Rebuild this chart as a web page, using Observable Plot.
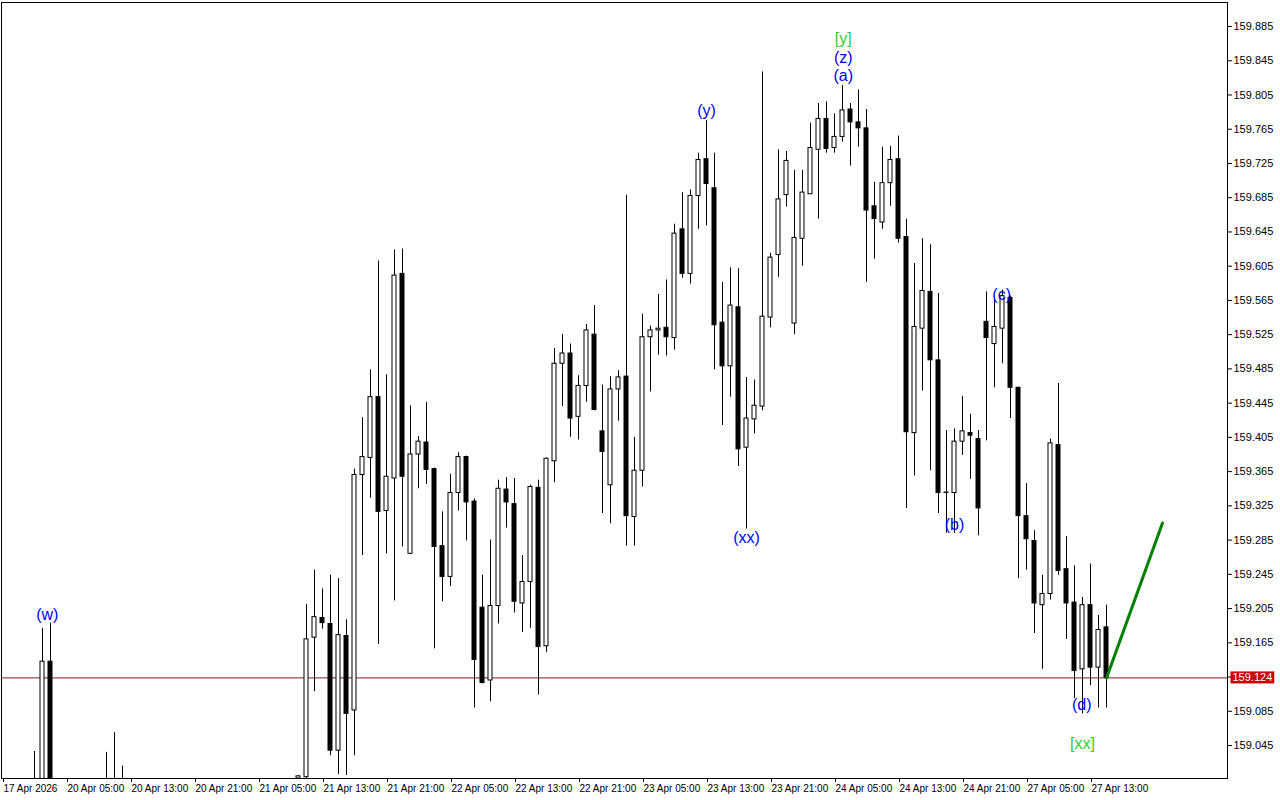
<!DOCTYPE html>
<html><head><meta charset="utf-8">
<script src="https://cdn.jsdelivr.net/npm/d3@7"></script>
<script src="https://cdn.jsdelivr.net/npm/@observablehq/plot@0.6"></script>
<style>body{margin:0;background:#fff} #chart svg{display:block}</style>
</head><body><div id="chart"></div>
<script>
// Bar number on the chart's own hourly bar sequence (first visible bar = 0)
const bars = [4,5,6,13,14,15,37,38,39,40,41,42,43,44,45,46,47,48,49,50,51,52,53,54,55,56,57,58,59,60,61,62,63,64,65,66,67,68,69,70,71,72,73,74,75,76,77,78,79,80,81,82,83,84,85,86,87,88,89,90,91,92,93,94,95,96,97,98,99,100,101,102,103,104,105,106,107,108,109,110,111,112,113,114,115,116,117,118,119,120,121,122,123,124,125,126,127,128,129,130,131,132,133,134,135,136,137,138];
const opens = [158.990,158.985,159.143,158.985,158.975,158.990,159.0065,159.008,159.171,159.194,159.187,159.039,159.173,159.086,159.361,159.381,159.452,159.319,159.357,159.596,159.269,159.385,159.399,159.368,159.278,159.242,159.340,159.382,159.330,159.206,159.121,159.208,159.344,159.327,159.211,159.236,159.346,159.161,159.377,159.491,159.503,159.429,159.465,159.525,159.412,159.349,159.461,159.476,159.312,159.366,159.522,159.530,159.533,159.521,159.648,159.596,159.687,159.730,159.696,159.539,159.488,159.557,159.393,159.426,159.441,159.545,159.618,159.688,159.538,159.637,159.689,159.741,159.777,159.743,159.756,159.788,159.773,159.766,159.675,159.656,159.702,159.730,159.639,159.410,159.532,159.575,159.495,159.3405,159.340,159.400,159.410,159.403,159.540,159.514,159.532,159.568,159.463,159.313,159.284,159.209,159.222,159.396,159.251,159.212,159.134,159.209,159.136,159.183];
const highs = [159.038,159.182,159.188,159.037,159.060,159.021,159.010,159.210,159.250,159.228,159.244,159.240,159.192,159.368,159.428,159.484,159.611,159.478,159.624,159.625,159.442,159.406,159.446,159.369,159.318,159.362,159.387,159.383,159.333,159.244,159.285,159.355,159.358,159.357,159.267,159.349,159.355,159.381,159.509,159.525,159.514,159.477,159.537,159.559,159.466,159.476,159.483,159.688,159.405,159.549,159.535,159.572,159.589,159.654,159.691,159.694,159.737,159.775,159.737,159.586,159.603,159.602,159.475,159.472,159.832,159.620,159.741,159.739,159.717,159.717,159.772,159.795,159.797,159.783,159.816,159.795,159.811,159.788,159.703,159.744,159.745,159.757,159.660,159.608,159.637,159.630,159.573,159.413,159.415,159.453,159.432,159.413,159.575,159.566,159.577,159.570,159.463,159.351,159.296,159.244,159.403,159.468,159.289,159.255,159.218,159.257,159.197,159.209];
const lows = [158.970,158.975,158.965,158.960,158.965,158.970,158.990,159.005,159.108,159.181,159.033,159.011,159.010,159.033,159.267,159.334,159.163,159.269,159.214,159.277,159.268,159.345,159.350,159.158,159.213,159.231,159.319,159.284,159.089,159.117,159.096,159.187,159.299,159.200,159.177,159.182,159.104,159.154,159.352,159.441,159.405,159.402,159.446,159.436,159.316,159.304,159.424,159.278,159.278,159.347,159.458,159.501,159.500,159.507,159.591,159.584,159.648,159.652,159.484,159.419,159.452,159.371,159.298,159.409,159.436,159.533,159.592,159.674,159.525,159.605,159.689,159.660,159.737,159.737,159.750,159.722,159.744,159.586,159.613,159.648,159.675,159.632,159.322,159.360,159.459,159.366,159.316,159.293,159.293,159.384,159.356,159.290,159.401,159.463,159.491,159.427,159.240,159.250,159.176,159.134,159.215,159.244,159.169,159.100,159.082,159.115,159.089,159.089];
const closes = [158.985,159.143,158.980,158.975,158.990,158.980,159.009,159.169,159.195,159.188,159.039,159.174,159.082,159.361,159.382,159.452,159.318,159.359,159.594,159.359,159.385,159.400,159.367,159.277,159.242,159.340,159.382,159.329,159.145,159.118,159.208,159.345,159.329,159.213,159.236,159.347,159.160,159.380,159.491,159.503,159.427,159.465,159.530,159.437,159.388,159.461,159.475,159.313,159.366,159.522,159.530,159.532,159.522,159.643,159.596,159.687,159.729,159.701,159.536,159.488,159.559,159.391,159.427,159.442,159.546,159.615,159.683,159.728,159.638,159.691,159.743,159.777,159.742,159.756,159.787,159.773,159.766,159.670,159.660,159.702,159.729,159.637,159.411,159.534,159.576,159.495,159.340,159.340,159.400,159.412,159.407,159.322,159.521,159.534,159.570,159.463,159.313,159.286,159.211,159.222,159.398,159.249,159.211,159.132,159.209,159.136,159.180,159.124];

const currentPrice = 159.124;

// Projection line (green)
const projBars = [138, 145];
const projPrices = [159.124, 159.305];

// Wave labels
const waveText = ["(w)","(y)","(xx)","[y]","(z)","(a)","(b)","(c)","(d)","[xx]"];
const waveBars = [5.6, 88, 93, 105.1, 105.1, 105.1, 119, 124.9, 134.9, 135];
const wavePrices = [159.198, 159.786, 159.288, 159.870, 159.848, 159.827, 159.303, 159.571, 159.092, 159.047];
const waveColors = ["#0000ff","#0000ff","#0000ff","#33cc33","#0000ff","#0000ff","#0000ff","#0000ff","#0000ff","#33cc33"];

// Axis ticks
const tickBars = [0,8,16,24,32,40,48,56,64,72,80,88,96,104,112,120,128,136];
const tickLabels = ["17 Apr 2026","20 Apr 05:00","20 Apr 13:00","20 Apr 21:00","21 Apr 05:00","21 Apr 13:00","21 Apr 21:00","22 Apr 05:00","22 Apr 13:00","22 Apr 21:00","23 Apr 05:00","23 Apr 13:00","23 Apr 21:00","24 Apr 05:00","24 Apr 13:00","24 Apr 21:00","27 Apr 05:00","27 Apr 13:00"];
const priceTicks = [159.045,159.085,159.125,159.165,159.205,159.245,159.285,159.325,159.365,159.405,159.445,159.485,159.525,159.565,159.605,159.645,159.685,159.725,159.765,159.805,159.845,159.885];

const candles = bars.map((b, i) => ({bar: b, open: opens[i], high: highs[i], low: lows[i], close: closes[i]}));
const proj = projBars.map((b, i) => ({bar: b, price: projPrices[i]}));
const waves = waveText.map((t, i) => ({label: t, bar: waveBars[i], price: wavePrices[i], color: waveColors[i]}));

const chart = Plot.plot({
  width: 1280, height: 800,
  marginLeft: 1, marginRight: 53, marginTop: 2, marginBottom: 22,
  style: {fontFamily: "'Liberation Sans', Arial, sans-serif", fontSize: "11px", background: "white", color: "black"},
  x: {type: "linear", domain: [-0.125, 153.125], label: null},
  y: {type: "linear", domain: [159.0065, 159.91304], label: null},
  marks: [
    Plot.ruleY([currentPrice], {stroke: "#8a1c1c", strokeWidth: 1}),
    Plot.ruleX(candles, {x: "bar", y1: "low", y2: "high", stroke: "black", strokeWidth: 1, clip: true}),
    Plot.rect(candles, {
      x1: d => d.bar - 0.25, x2: d => d.bar + 0.25,
      y1: "open", y2: "close",
      fill: d => d.close >= d.open ? "white" : "black",
      stroke: "black", strokeWidth: 1, clip: true
    }),
    Plot.line(proj, {x: "bar", y: "price", stroke: "#008000", strokeWidth: 3, clip: true}),
    Plot.text(waves, {x: "bar", y: "price", text: "label", fill: "color", fontSize: 16, fontFamily: "'Liberation Sans', Arial, sans-serif"}),
    Plot.frame({stroke: "black"}),
    Plot.axisX(tickBars, {
      label: null,
      tickFormat: d => tickLabels[tickBars.indexOf(d)],
      textAnchor: "start", tickSize: 4, tickPadding: 2, dx: 1, fontSize: 10
    }),
    Plot.axisY(priceTicks, {anchor: "right", label: null, tickSize: 4, tickPadding: 2, tickFormat: d => d.toFixed(3), fontSize: 11}),
    Plot.text([currentPrice], {y: d => d, frameAnchor: "right", dx: 5, textAnchor: "start", text: d => d.toFixed(3), fill: "white", fontSize: 11, className: "price-tag"})
  ]
});
document.getElementById("chart").appendChild(chart);

// red background behind the current price tag
const tag = chart.querySelector(".price-tag text");
if (tag) {
  const bb = tag.getBBox();
  const r = document.createElementNS("http://www.w3.org/2000/svg", "rect");
  r.setAttribute("x", bb.x - 2); r.setAttribute("y", bb.y);
  r.setAttribute("width", bb.width + 4); r.setAttribute("height", bb.height);
  r.setAttribute("fill", "#cc0000");
  const tf = tag.getAttribute("transform");
  if (tf) r.setAttribute("transform", tf);
  tag.parentNode.insertBefore(r, tag);
}
</script>
</body></html>
